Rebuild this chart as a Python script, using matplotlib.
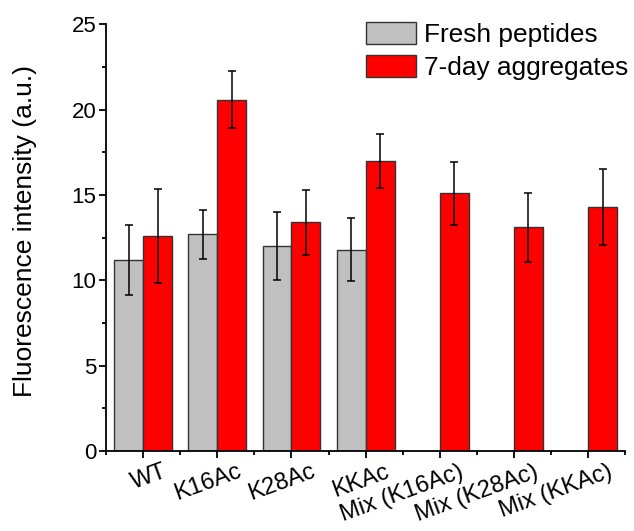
import numpy as np
import matplotlib.pyplot as plt
import matplotlib.transforms as mtransforms
from matplotlib.ticker import MultipleLocator

plt.rcParams['font.family'] = ['Liberation Sans', 'DejaVu Sans']

# data
categories = ["WT", "K16Ac", "K28Ac", "KKAc", "Mix (K16Ac)", "Mix (K28Ac)", "Mix (KKAc)"]
fresh_mean = [11.2, 12.7, 12.0, 11.8]
fresh_err = [2.05, 1.45, 2.0, 1.85]
agg_mean = [12.6, 20.6, 13.4, 17.0, 15.1, 13.1, 14.3]
agg_err = [2.75, 1.65, 1.9, 1.6, 1.85, 2.05, 2.25]


def main():
    fig = plt.figure(figsize=(6.34, 5.31), dpi=100)
    ax = fig.add_axes([0.1672, 0.1507, 0.819, 0.8032])

    width = 0.39
    x = np.arange(len(categories))
    x_fresh = x[:len(fresh_mean)]

    err_kw = dict(ecolor="black", elinewidth=1.1, capsize=3, capthick=1.1)
    ax.bar(x_fresh - width / 2, fresh_mean, width, yerr=fresh_err,
           color="#c0c0c0", edgecolor="#333333", linewidth=1.0,
           label="Fresh peptides", error_kw=err_kw)
    ax.bar(x + width / 2, agg_mean, width, yerr=agg_err,
           color="#ff0000", edgecolor="#333333", linewidth=1.0,
           label="7-day aggregates", error_kw=err_kw)

    ax.set_xlim(-0.5, 6.5)
    ax.set_ylim(0, 25)
    ax.yaxis.set_major_locator(MultipleLocator(5))
    ax.yaxis.set_minor_locator(MultipleLocator(2.5))
    ax.set_xticks(x)
    ax.set_xticks(np.arange(-0.5, 7.0, 1.0), minor=True)

    for side in ["top", "right"]:
        ax.spines[side].set_visible(False)
    for side in ["left", "bottom"]:
        ax.spines[side].set_linewidth(1.3)

    ax.tick_params(which="major", direction="out", length=5, width=1.3, labelsize=16, pad=2)
    ax.tick_params(which="minor", direction="out", length=3, width=1.3)

    offset = mtransforms.ScaledTranslation(14 / 72, 0, fig.dpi_scale_trans)
    labels = ax.set_xticklabels(categories, rotation=20, ha="right",
                                rotation_mode="anchor", fontsize=17)
    for lab in labels:
        lab.set_transform(lab.get_transform() + offset)

    ax.set_ylabel("Fluorescence intensity (a.u.)", fontsize=19)
    ax.yaxis.set_label_coords(-0.133, 0.515)

    ax.legend(loc="upper left", bbox_to_anchor=(366 / 634, 1 - 22 / 531),
              bbox_transform=fig.transFigure, frameon=False, fontsize=18.9,
              handlelength=1.9, handleheight=0.92, handletextpad=0.3,
              labelspacing=0.3, borderpad=0, borderaxespad=0)

    fig.savefig("out.png", dpi=100)
    plt.close(fig)


if __name__ == "__main__":
    main()
